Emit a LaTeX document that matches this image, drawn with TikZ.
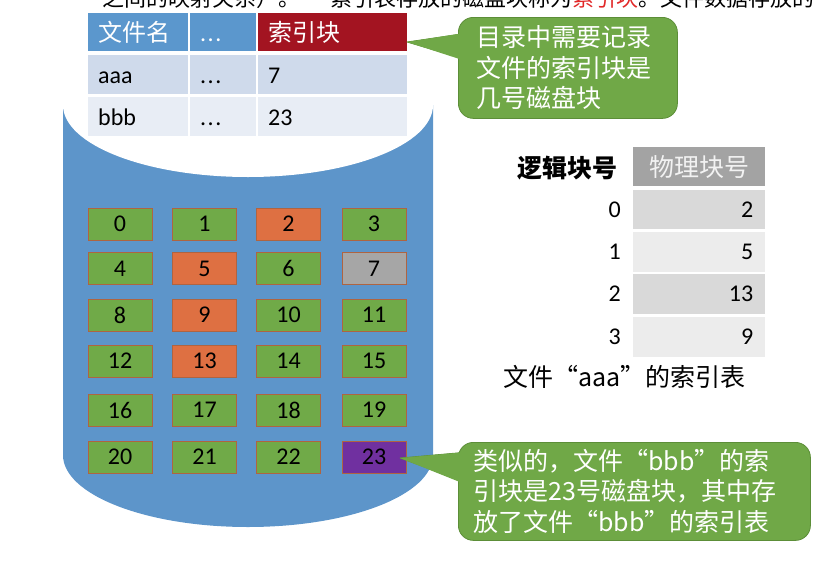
\documentclass[tikz,border=0pt]{standalone}
\usepackage{fontspec}
\setmainfont{Carlito}
\newfontfamily\cjk{Noto Sans CJK SC}
\definecolor{cylblue}{RGB}{93,149,202}
\definecolor{hdrblue}{RGB}{91,151,205}
\definecolor{hdrred}{RGB}{163,20,33}
\definecolor{toprred}{RGB}{225,40,40}
\definecolor{rowA}{RGB}{207,218,235}
\definecolor{rowB}{RGB}{232,237,245}
\definecolor{blkG}{RGB}{112,170,72}
\definecolor{blkO}{RGB}{222,112,66}
\definecolor{blkY}{RGB}{166,166,166}
\definecolor{blkP}{RGB}{112,48,160}
\definecolor{blkedge}{RGB}{175,100,65}
\definecolor{callgreen}{RGB}{112,168,71}
\definecolor{calledge}{RGB}{92,142,56}
\definecolor{tgray}{RGB}{163,163,163}
\definecolor{tdark}{RGB}{217,217,217}
\definecolor{tlight}{RGB}{236,236,236}
\definecolor{hdrtext}{RGB}{242,242,242}
\newcommand{\mydots}{.\kern1.5pt.\kern1.5pt.}
\begin{document}
\begin{tikzpicture}[x=1pt,y=-1pt,
  tcell/.style={anchor=north west, inner sep=0pt, inner xsep=10pt, align=left, text height=21pt, text depth=3pt, font=\fontsize{24}{24}\selectfont},
  blk/.style={draw=blkedge, line width=0.7pt, minimum width=64pt, minimum height=32pt, inner sep=0pt, font=\fontsize{24}{24}\selectfont},
  callbox/.style={fill=callgreen, draw=calledge, line width=0.8pt, rounded corners=15pt, anchor=north west, inner sep=0pt, align=left, text=white, font=\cjk\fontsize{25}{30.5}\selectfont},
  callptr/.style={fill=callgreen, draw=calledge, line width=0.8pt, line join=round},
  rcell/.style={anchor=north west, inner sep=0pt, inner xsep=12pt, align=right, text width=108pt, font=\fontsize{24}{24}\selectfont},
  toptext/.style={anchor=base west, inner sep=0pt, font=\cjk\fontsize{22}{22}\selectfont}
]
\useasboundingbox (0,0) rectangle (830,560);

% clipped line of slide text at the very top
\node[toptext] (topA) at (102,6) {之间的映射关系）。};
\node[toptext] (topB) at (330,6) {索引表存放的磁盘块称为\textcolor{toprred}{索引块}。文件数据存放的};

% cylinder
\fill[cylblue] (63,105) -- (63,455) arc[start angle=180, end angle=0, x radius=185, y radius=72] -- (433,105) -- cycle;
\fill[white] (248,105) ellipse[x radius=185, y radius=72];

% directory table
\node[tcell, fill=hdrblue, text=white, text width=80pt, minimum height=38pt] (h1) at (88,13) {\cjk 文件名};
\node[tcell, fill=hdrblue, text=white, text width=46pt, minimum height=38pt] (h2) at (190,13) {\mydots};
\node[tcell, fill=hdrred, text=white, text width=129pt, minimum height=38pt] (h3) at (258,13) {\cjk 索引块};
\node[tcell, fill=rowA, text width=80pt, minimum height=39pt] (a1) at (88,55) {aaa};
\node[tcell, fill=rowA, text width=46pt, minimum height=39pt] (a2) at (190,55) {\mydots};
\node[tcell, fill=rowA, text width=129pt, minimum height=39pt] (a3) at (258,55) {7};
\node[tcell, fill=rowB, text width=80pt, minimum height=39pt] (b1) at (88,97) {bbb};
\node[tcell, fill=rowB, text width=46pt, minimum height=39pt] (b2) at (190,97) {\mydots};
\node[tcell, fill=rowB, text width=129pt, minimum height=39pt] (b3) at (258,97) {23};

% disk blocks
\foreach \n/\c in {0/G,1/G,2/O,3/G,4/G,5/O,6/G,7/Y,8/G,9/O,10/G,11/G,12/G,13/O,14/G,15/G,16/G,17/G,18/G,19/G,20/G,21/G,22/G,23/P}{
  \pgfmathsetmacro\cx{{120,204.5,288.5,374}[mod(\n,4)]}
  \pgfmathsetmacro\cy{{224,268.5,315,361,410,457}[int(\n/4)]}
  \node[blk, fill=blk\c] (k\n) at (\cx,\cy) {\n};
}

% callout 1
\coordinate (tip1) at (407,42);
\draw[callptr] (tip1) -- (468,33) -- (468,60) -- cycle;
\node[callbox, text width=183pt, inner xsep=18pt, minimum height=101pt] (c1) at (458,17)
  {目录中需要记录\\文件的索引块是\\几号磁盘块};
\fill[callgreen] (tip1) -- (461,33.5) -- (461,59.5) -- cycle;

% callout 2
\coordinate (tip2) at (400,458);
\draw[callptr] (tip2) -- (468,452) -- (468,483) -- cycle;
\node[callbox, text width=322pt, inner xsep=15pt, minimum height=98pt] (c2) at (458,442)
  {类似的，文件“bbb”的索\\引块是23号磁盘块，其中存\\放了文件“bbb”的索引表};
\fill[callgreen] (tip2) -- (461,452.5) -- (461,482.5) -- cycle;

% index table of file aaa
\node[anchor=east, inner sep=0pt, font=\cjk\bfseries\fontsize{25}{25}\selectfont] (lh) at (618,168) {逻辑块号};
\node[anchor=north west, fill=tgray, minimum width=132pt, minimum height=39pt, inner sep=0pt, text=hdrtext, font=\cjk\fontsize{25}{25}\selectfont] (ph) at (633,147) {物理块号};
\node[rcell, fill=tdark, minimum height=39pt] (p0) at (633,190) {2};
\node[rcell, fill=tlight, minimum height=40pt] (p1) at (633,232) {5};
\node[rcell, fill=tdark, minimum height=40pt] (p2) at (633,274) {13};
\node[rcell, fill=tlight, minimum height=40pt] (p3) at (633,317) {9};
\foreach \i/\yy in {0/209.5,1/252,2/294,3/337}{
  \node[anchor=east, inner sep=0pt, font=\fontsize{24}{24}\selectfont] (l\i) at (621,\yy) {\i};
}
\node[anchor=west, inner sep=0pt, font=\cjk\fontsize{25}{25}\selectfont] (cap) at (503,377) {文件“aaa”的索引表};
\end{tikzpicture}
\end{document}
